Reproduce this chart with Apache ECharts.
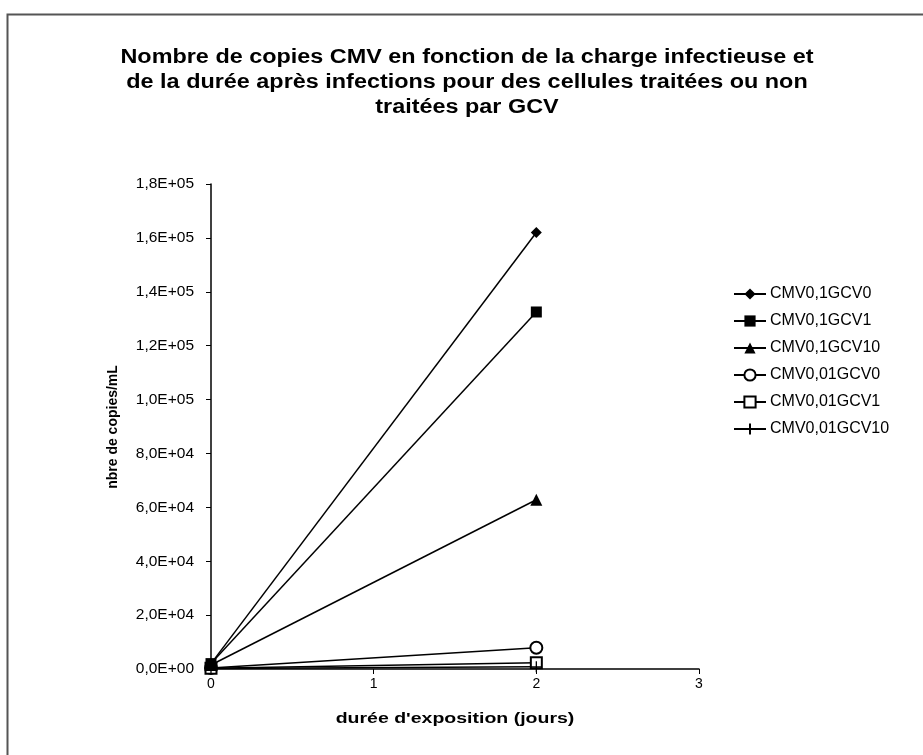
<!DOCTYPE html>
<html><head><meta charset="utf-8">
<script src="https://cdn.jsdelivr.net/npm/echarts@6/dist/echarts.min.js"></script>
<style>html,body{margin:0;padding:0;background:#fff}#c{width:923px;height:755px}</style>
</head><body><div id="c"></div>
<script>
var days = [0, 2];
var seriesNames = ['CMV0,1GCV0','CMV0,1GCV1','CMV0,1GCV10','CMV0,01GCV0','CMV0,01GCV1','CMV0,01GCV10'];
var cmv01gcv0 = [2000, 162000];
var cmv01gcv1 = [2000, 132500];
var cmv01gcv10 = [1500, 62800];
var cmv001gcv0 = [400, 7900];
var cmv001gcv1 = [300, 2300];
var cmv001gcv10 = [200, 800];
var values = [cmv01gcv0, cmv01gcv1, cmv01gcv10, cmv001gcv0, cmv001gcv1, cmv001gcv10];
var titleLines = ['Nombre de copies CMV en fonction de la charge infectieuse et',
                  'de la durée après infections pour des cellules traitées ou non',
                  'traitées par GCV'];
var xAxisTitle = "durée d'exposition (jours)";
var yAxisTitle = 'nbre de copies/mL';
var symbols = ['diamond','rect','triangle','emptyCircle','emptyRect','path://M0,5L10,5M5,0L5,10'];
var symbolSizes = [11, 11, 12, 12, 11, 11];

function fmt(v){
  if (v === 0) return '0,0E+00';
  var e = Math.floor(Math.log10(v));
  var m = v / Math.pow(10, e);
  if (m >= 9.95) { m = m/10; e += 1; }
  return m.toFixed(1).replace('.', ',') + 'E+' + (e < 10 ? '0' + e : e);
}
var FONT = 'Liberation Sans, Arial, sans-serif';

var chart = echarts.init(document.getElementById('c'));
var series = seriesNames.map(function(n, i){
  return {
    name: n, type: 'line',
    z: i < 3 ? 4 : 3,
    data: days.map(function(d, j){ return [d, values[i][j]]; }),
    symbol: symbols[i], symbolSize: symbolSizes[i],
    showAllSymbol: true,
    lineStyle: {color: '#000', width: 1.5},
    itemStyle: {color: '#000', borderColor: '#000', borderWidth: i < 3 ? 0 : 1.3},
    emphasis: {disabled: true},
    animation: false
  };
});
var graphics = [{type: 'rect', left: 5, top: 12, shape: {width: 940, height: 770}, style: {fill: 'none', stroke: '#555', lineWidth: 2}, z: -1}];
titleLines.forEach(function(t, i){
  graphics.push({type: 'text', x: 467, y: 57 + i * 25, scaleX: 1.17,
    style: {text: t, align: 'center', verticalAlign: 'middle', font: 'bold 20px ' + FONT, fill: '#000'}});
});
graphics.push({type: 'text', x: 455, y: 719, scaleX: 1.3,
  style: {text: xAxisTitle, align: 'center', verticalAlign: 'middle', font: 'bold 15px ' + FONT, fill: '#000'}});
graphics.push({type: 'text', x: 113, y: 427, rotation: Math.PI / 2,
  style: {text: yAxisTitle, align: 'center', verticalAlign: 'middle', font: 'bold 14px ' + FONT, fill: '#000'}});

chart.setOption({
  backgroundColor: '#fff',
  animation: false,
  graphic: graphics,
  legend: {
    orient: 'vertical', left: 728, top: 281, itemGap: 11, itemWidth: 32, itemHeight: 14,
    data: seriesNames,
    textStyle: {fontFamily: FONT, fontSize: 16, color: '#000', padding: [0,0,0,-1]},
    selectedMode: false
  },
  grid: {left: 211, right: 224, top: 184, bottom: 86},
  xAxis: {
    type: 'value', min: 0, max: 3, interval: 1,
    axisLine: {onZero: false, lineStyle: {color: '#000', width: 1.5}},
    axisTick: {show: true, length: 5, lineStyle: {color: '#000'}},
    axisLabel: {fontFamily: FONT, fontSize: 14, color: '#000', margin: 8},
    splitLine: {show: false}
  },
  yAxis: {
    type: 'value', min: 0, max: 180000, interval: 20000,
    axisLine: {show: true, lineStyle: {color: '#000', width: 1.5}},
    axisTick: {show: true, length: 5, lineStyle: {color: '#000'}},
    axisLabel: {fontFamily: FONT, fontSize: 15.5, color: '#000', margin: 17, formatter: fmt},
    splitLine: {show: false}
  },
  series: series
});
</script></body></html>
